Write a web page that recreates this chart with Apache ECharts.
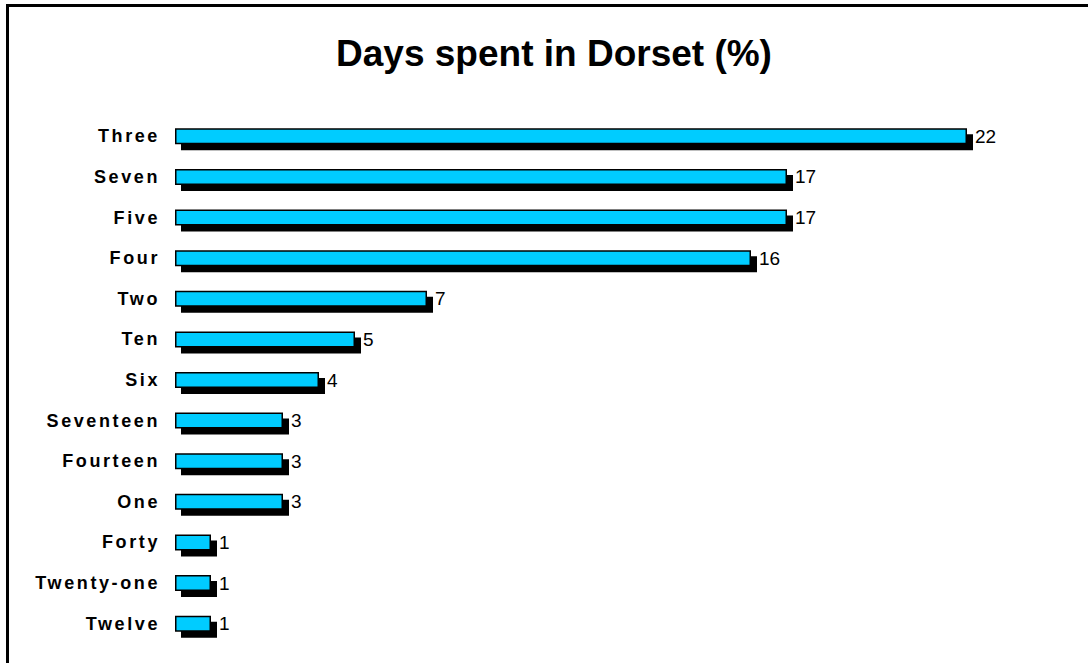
<!DOCTYPE html>
<html>
<head>
<meta charset="utf-8">
<script src="https://cdn.jsdelivr.net/npm/echarts@6/dist/echarts.min.js"></script>
<style>
  html, body { margin: 0; padding: 0; background: #fff; }
  #chart { width: 1088px; height: 663px; }
  /* category labels in the original are spaced out */
  #chart svg text { letter-spacing: 2.6px; }
  #chart svg text[style*="37px"], #chart svg text[style*="19px"] { letter-spacing: 0; }
</style>
</head>
<body>
<div id="chart"></div>
<script>
const categories = ['Three', 'Seven', 'Five', 'Four', 'Two', 'Ten', 'Six', 'Seventeen', 'Fourteen', 'One', 'Forty', 'Twenty-one', 'Twelve']
const values = [22, 17, 17, 16, 7, 5, 4, 3, 3, 3, 1, 1, 1]

const chart = echarts.init(document.getElementById('chart'), null, { renderer: 'svg' })

const barH = 16

chart.setOption({
  animation: false,
  backgroundColor: '#fff',
  title: {
    text: 'Days spent in Dorset (%)',
    left: 549,
    textAlign: 'center',
    top: 30,
    textStyle: { fontFamily: 'Liberation Sans', fontSize: 37, fontWeight: 'bold', color: '#000' }
  },
  graphic: [{
    type: 'rect',
    shape: { x: 7.5, y: 5.5, width: 1200, height: 800 },
    style: { fill: 'none', stroke: '#000', lineWidth: 3 },
    silent: true
  }],
  grid: { left: 175, right: 13, top: 116, bottom: 19, containLabel: false },
  xAxis: { type: 'value', min: 0, max: 25, show: false },
  yAxis: {
    type: 'category',
    data: categories,
    inverse: true,
    axisLine: { show: false },
    axisTick: { show: false },
    axisLabel: {
      margin: 15,
      fontFamily: 'Liberation Sans',
      fontSize: 18,
      fontWeight: 'bold',
      color: '#000'
    }
  },
  series: [
    {
      // drop shadow behind each bar
      type: 'custom',
      z: 1,
      data: values.map((v, i) => [v, i]),
      encode: { x: 0, y: 1 },
      renderItem: function (params, api) {
        const start = api.coord([0, api.value(1)])
        const end = api.coord([api.value(0), api.value(1)])
        return {
          type: 'rect',
          shape: { x: start[0] + 6, y: start[1] - barH / 2 + 6, width: end[0] - start[0], height: barH },
          style: { fill: '#000' }
        }
      }
    },
    {
      type: 'bar',
      z: 2,
      data: values,
      barWidth: barH,
      itemStyle: { color: '#00ccff', borderColor: '#000', borderWidth: 1.5 },
      label: {
        show: true,
        position: 'right',
        distance: 8,
        fontFamily: 'Liberation Sans',
        fontSize: 19,
        color: '#000'
      }
    }
  ]
})
</script>
</body>
</html>
